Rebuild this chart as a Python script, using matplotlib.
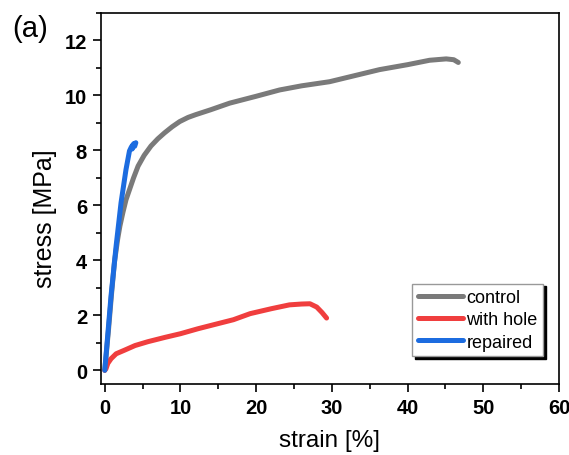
import matplotlib.pyplot as plt
from matplotlib.ticker import MultipleLocator

plt.rcParams['font.family'] = ['Liberation Sans', 'DejaVu Sans']

# --- data ---
control_strain = [0, 0.5, 0.9, 1.28, 1.7, 2.0, 2.4, 2.8, 3.3, 3.8, 4.4, 5.2, 6.1, 7.0, 7.9, 8.9, 9.9,
                  11, 12, 14, 16.5, 20, 23.1, 26, 29.7, 33, 36.3, 40, 42.9, 45.1, 46.1, 46.7]
control_stress = [0, 1.5, 2.8, 3.94, 4.77, 5.25, 5.75, 6.2, 6.6, 7.0, 7.43, 7.82, 8.16, 8.42, 8.64, 8.86,
                  9.05, 9.2, 9.3, 9.48, 9.72, 9.97, 10.2, 10.35, 10.5, 10.72, 10.94, 11.12, 11.28, 11.33,
                  11.3, 11.2]

hole_strain = [0, 0.17, 0.4, 0.83, 1.5, 2.6, 4, 5.7, 8, 10, 12.3, 15, 17, 19.2, 22, 24.4, 26,
               27.1, 28, 28.7, 29.3]
hole_stress = [0, 0.06, 0.25, 0.42, 0.6, 0.73, 0.9, 1.04, 1.2, 1.33, 1.51, 1.7, 1.84, 2.06, 2.24, 2.38, 2.41,
               2.42, 2.3, 2.1, 1.9]

rep_strain = [0, 0.83, 1.5, 2.15, 2.8, 3.26, 3.5, 3.7, 3.62, 3.85, 3.95, 4.1]
rep_stress = [0, 2.72, 4.53, 6.1, 7.3, 7.98, 8.12, 8.2, 8.05, 8.25, 8.15, 8.28]

fig = plt.figure(figsize=(5.69, 4.56), dpi=100)
ax = fig.add_axes([0.1775, 0.1557, 0.8049, 0.8136])

ax.plot(control_strain, control_stress, color='#7a7a7a', lw=3.6, label='control', solid_capstyle='round')
ax.plot(hole_strain, hole_stress, color='#f03e3e', lw=3.6, label='with hole', solid_capstyle='round')
ax.plot(rep_strain, rep_stress, color='#1c6ce0', lw=3.6, label='repaired', solid_capstyle='round')

ax.set_xlim(-0.5, 60)
ax.set_ylim(-0.5, 13)
ax.xaxis.set_major_locator(MultipleLocator(10))
ax.xaxis.set_minor_locator(MultipleLocator(5))
ax.yaxis.set_major_locator(MultipleLocator(2))
ax.yaxis.set_minor_locator(MultipleLocator(1))
ax.tick_params(which='both', direction='out', width=1.2, top=False, right=False)
ax.tick_params(which='major', length=6, labelsize=14.5, pad=4)
ax.tick_params(which='minor', length=3.5)
for lab in ax.get_xticklabels() + ax.get_yticklabels():
    lab.set_fontweight('bold')
for sp in ax.spines.values():
    sp.set_linewidth(1.2)

ax.set_xlabel('strain [%]', fontsize=17.5)
ax.set_ylabel('stress [MPa]', fontsize=18)
ax.xaxis.set_label_coords(0.5, -0.121)
ax.yaxis.set_label_coords(-0.097, 0.447)

leg = ax.legend(loc='lower right', bbox_to_anchor=(0.965, 0.075), fontsize=13, frameon=True,
                fancybox=False, shadow={'color': 'black', 'alpha': 1}, handlelength=2.5,
                handletextpad=0.2, borderpad=0.3, labelspacing=0.3, borderaxespad=0)
leg.get_frame().set_edgecolor('#999999')
leg.get_frame().set_linewidth(1)

fig.text(0.022, 0.968, '(a)', fontsize=21, va='top', ha='left')

plt.savefig('out.png', dpi=100)
plt.close()
